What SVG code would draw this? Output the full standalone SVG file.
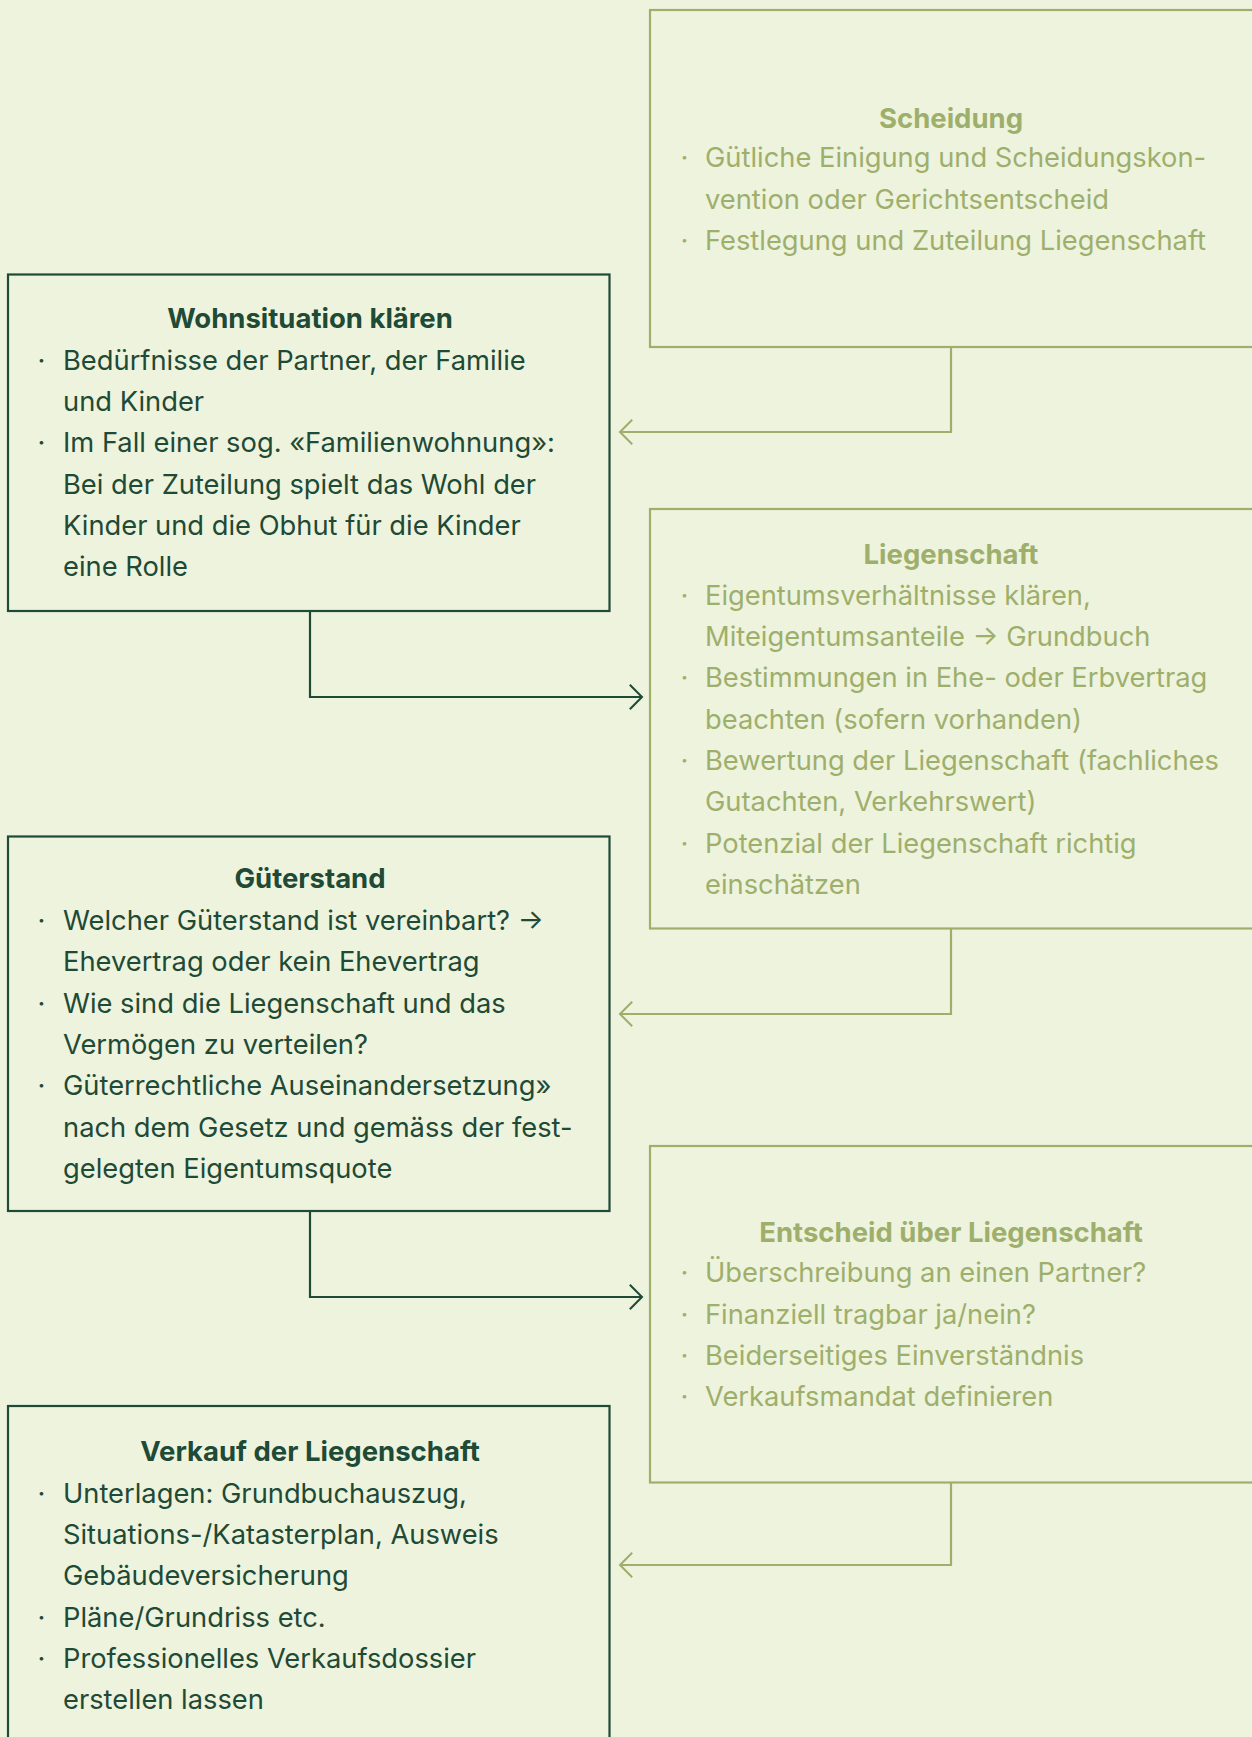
<svg xmlns="http://www.w3.org/2000/svg" width="1252" height="1737" viewBox="0 0 1252 1737">
<style>
  .bg { fill: #EEF3DE; }
  .boxL { fill: none; stroke: #9EAF6C; stroke-width: 2.2; }
  .boxD { fill: none; stroke: #1E4A36; stroke-width: 2.2; }
  .conL { fill: none; stroke: #9EAF6C; stroke-width: 2.2; }
  .conD { fill: none; stroke: #1E4A36; stroke-width: 2.2; }
  text { font-family: Inter, "Liberation Sans", sans-serif; font-size: 27.3px; }
  .tL { fill: #9EAF6C; }
  .tD { fill: #1E4A36; }
  .title { font-weight: 700; font-size: 27.5px; text-anchor: middle; }
  .bul { text-anchor: middle; }
</style>
<defs>
  <marker id="arrL" markerUnits="userSpaceOnUse" markerWidth="30" markerHeight="30" refX="0" refY="0" viewBox="-16 -16 32 32" orient="auto">
    <path d="M-13,-13 L0,0 L-13,13" fill="none" stroke="#9EAF6C" stroke-width="2.2"/>
  </marker>
  <marker id="arrD" markerUnits="userSpaceOnUse" markerWidth="30" markerHeight="30" refX="0" refY="0" viewBox="-16 -16 32 32" orient="auto">
    <path d="M-13,-13 L0,0 L-13,13" fill="none" stroke="#1E4A36" stroke-width="2.2"/>
  </marker>
</defs>
<rect class="bg" x="0" y="0" width="1252" height="1737"/>

<g id="connectors">
  <path class="conL" d="M951,347 V432 H620" marker-end="url(#arrL)"/>
  <path class="conD" d="M310,611 V697 H642" marker-end="url(#arrD)"/>
  <path class="conL" d="M951,928 V1014 H620" marker-end="url(#arrL)"/>
  <path class="conD" d="M310,1211 V1297 H642" marker-end="url(#arrD)"/>
  <path class="conL" d="M951,1482 V1565 H620" marker-end="url(#arrL)"/>
</g>

<g id="scheidung">
  <rect class="boxL" x="650" y="10" width="640" height="337"/>
  <text class="tL title" x="951" y="128">Scheidung</text>
  <text class="tL bul" x="684.5" y="167">·</text>
  <text class="tL" x="705" y="167">Gütliche Einigung und Scheidungskon-</text>
  <text class="tL" x="705" y="209">vention oder Gerichtsentscheid</text>
  <text class="tL bul" x="684.5" y="250">·</text>
  <text class="tL" x="705" y="250">Festlegung und Zuteilung Liegenschaft</text>
</g>

<g id="wohnsituation">
  <rect class="boxD" x="8" y="274.5" width="601.5" height="336.5"/>
  <text class="tD title" x="310" y="328">Wohnsituation klären</text>
  <text class="tD bul" x="41.5" y="370">·</text>
  <text class="tD" x="63" y="370">Bedürfnisse der Partner, der Familie</text>
  <text class="tD" x="63" y="411">und Kinder</text>
  <text class="tD bul" x="41.5" y="452">·</text>
  <text class="tD" x="63" y="452">Im Fall einer sog. «Familienwohnung»:</text>
  <text class="tD" x="63" y="494">Bei der Zuteilung spielt das Wohl der</text>
  <text class="tD" x="63" y="535">Kinder und die Obhut für die Kinder</text>
  <text class="tD" x="63" y="576">eine Rolle</text>
</g>

<g id="liegenschaft">
  <rect class="boxL" x="650" y="509" width="640" height="419.5"/>
  <text class="tL title" x="951" y="564">Liegenschaft</text>
  <text class="tL bul" x="684.5" y="605">·</text>
  <text class="tL" x="705" y="605">Eigentumsverhältnisse klären,</text>
  <text class="tL" x="705" y="646">Miteigentumsanteile → Grundbuch</text>
  <text class="tL bul" x="684.5" y="687">·</text>
  <text class="tL" x="705" y="687">Bestimmungen in Ehe- oder Erbvertrag</text>
  <text class="tL" x="705" y="729">beachten (sofern vorhanden)</text>
  <text class="tL bul" x="684.5" y="770">·</text>
  <text class="tL" x="705" y="770">Bewertung der Liegenschaft (fachliches</text>
  <text class="tL" x="705" y="811">Gutachten, Verkehrswert)</text>
  <text class="tL bul" x="684.5" y="853">·</text>
  <text class="tL" x="705" y="853">Potenzial der Liegenschaft richtig</text>
  <text class="tL" x="705" y="894">einschätzen</text>
</g>

<g id="gueterstand">
  <rect class="boxD" x="8" y="836.5" width="601.5" height="374.5"/>
  <text class="tD title" x="310" y="888">Güterstand</text>
  <text class="tD bul" x="41.5" y="930">·</text>
  <text class="tD" x="63" y="930">Welcher Güterstand ist vereinbart? →</text>
  <text class="tD" x="63" y="971">Ehevertrag oder kein Ehevertrag</text>
  <text class="tD bul" x="41.5" y="1013">·</text>
  <text class="tD" x="63" y="1013">Wie sind die Liegenschaft und das</text>
  <text class="tD" x="63" y="1054">Vermögen zu verteilen?</text>
  <text class="tD bul" x="41.5" y="1095">·</text>
  <text class="tD" x="63" y="1095">Güterrechtliche Auseinandersetzung»</text>
  <text class="tD" x="63" y="1137">nach dem Gesetz und gemäss der fest-</text>
  <text class="tD" x="63" y="1178">gelegten Eigentumsquote</text>
</g>

<g id="entscheid">
  <rect class="boxL" x="650" y="1146" width="640" height="336.5"/>
  <text class="tL title" x="951" y="1242">Entscheid über Liegenschaft</text>
  <text class="tL bul" x="684.5" y="1282">·</text>
  <text class="tL" x="705" y="1282">Überschreibung an einen Partner?</text>
  <text class="tL bul" x="684.5" y="1324">·</text>
  <text class="tL" x="705" y="1324">Finanziell tragbar ja/nein?</text>
  <text class="tL bul" x="684.5" y="1365">·</text>
  <text class="tL" x="705" y="1365">Beiderseitiges Einverständnis</text>
  <text class="tL bul" x="684.5" y="1406">·</text>
  <text class="tL" x="705" y="1406">Verkaufsmandat definieren</text>
</g>

<g id="verkauf">
  <rect class="boxD" x="8" y="1406" width="601.5" height="360"/>
  <text class="tD title" x="310" y="1461">Verkauf der Liegenschaft</text>
  <text class="tD bul" x="41.5" y="1503">·</text>
  <text class="tD" x="63" y="1503">Unterlagen: Grundbuchauszug,</text>
  <text class="tD" x="63" y="1544">Situations-/Katasterplan, Ausweis</text>
  <text class="tD" x="63" y="1585">Gebäudeversicherung</text>
  <text class="tD bul" x="41.5" y="1627">·</text>
  <text class="tD" x="63" y="1627">Pläne/Grundriss etc.</text>
  <text class="tD bul" x="41.5" y="1668">·</text>
  <text class="tD" x="63" y="1668">Professionelles Verkaufsdossier</text>
  <text class="tD" x="63" y="1709">erstellen lassen</text>
</g>
</svg>
